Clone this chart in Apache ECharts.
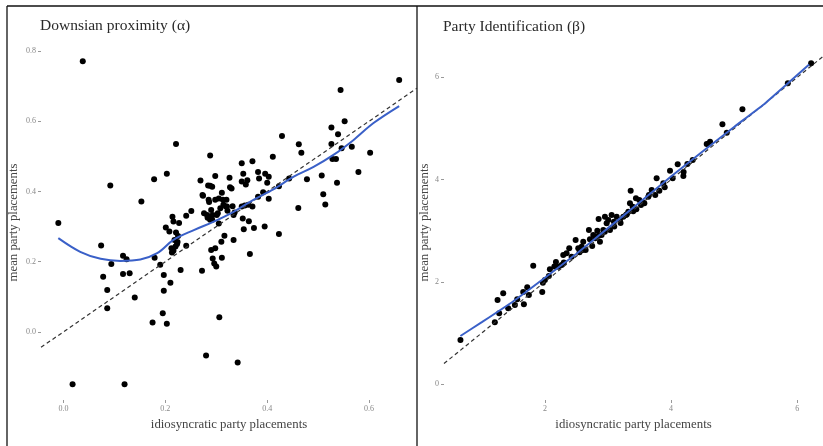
<!DOCTYPE html>
<html>
<head>
<meta charset="utf-8">
<title>Placements</title>
<script src="https://cdn.jsdelivr.net/npm/echarts@6/dist/echarts.min.js"></script>
<style>
  html, body { margin: 0; padding: 0; background: #fff; }
  #chart { width: 823px; height: 446px; }
</style>
</head>
<body>
<div id="chart"></div>
<script>
// ---- Downsian proximity (alpha) ----
var alphaIdio = [-0.010, 0.038, 0.018, 0.120, 0.074, 0.078, 0.086, 0.086, 0.092, 0.094,
  0.117, 0.124, 0.117, 0.130, 0.140, 0.153, 0.178, 0.179, 0.175, 0.190,
  0.197, 0.197, 0.195, 0.203, 0.203, 0.210, 0.221, 0.201, 0.208, 0.214,
  0.216, 0.227, 0.221, 0.225, 0.220, 0.216, 0.213, 0.224, 0.241, 0.230,
  0.241, 0.251, 0.269, 0.273, 0.272, 0.280, 0.284, 0.288, 0.298, 0.292,
  0.286, 0.276, 0.283, 0.288, 0.293, 0.290, 0.298, 0.290, 0.298, 0.293,
  0.296, 0.300, 0.306, 0.305, 0.303, 0.311, 0.313, 0.314, 0.319, 0.310,
  0.311, 0.316, 0.326, 0.330, 0.322, 0.332, 0.334, 0.342, 0.336, 0.350,
  0.353, 0.350, 0.361, 0.358, 0.371, 0.356, 0.363, 0.352, 0.354, 0.364,
  0.366, 0.371, 0.374, 0.382, 0.384, 0.382, 0.395, 0.396, 0.400, 0.403,
  0.392, 0.403, 0.411, 0.423, 0.429, 0.423, 0.443, 0.462, 0.467, 0.461,
  0.478, 0.507, 0.510, 0.514, 0.526, 0.526, 0.528, 0.535, 0.539, 0.537,
  0.544, 0.546, 0.552, 0.566, 0.579, 0.602, 0.659,
  0.274, 0.288, 0.285, 0.305, 0.320, 0.327, 0.321, 0.308, 0.282, 0.287,
  0.301, 0.292, 0.334, 0.350, 0.218, 0.223, 0.212];
var alphaMean = [0.310, 0.771, -0.149, -0.149, 0.246, 0.157, 0.119, 0.067, 0.417, 0.193,
  0.217, 0.207, 0.165, 0.167, 0.098, 0.371, 0.435, 0.211, 0.027, 0.191,
  0.162, 0.117, 0.053, 0.023, 0.450, 0.140, 0.535, 0.297, 0.286, 0.328,
  0.314, 0.310, 0.283, 0.273, 0.243, 0.231, 0.226, 0.256, 0.245, 0.176,
  0.331, 0.344, 0.431, 0.390, 0.174, -0.067, 0.417, 0.502, 0.444, 0.413,
  0.370, 0.338, 0.325, 0.319, 0.333, 0.347, 0.376, 0.233, 0.238, 0.209,
  0.195, 0.186, 0.042, 0.309, 0.338, 0.396, 0.376, 0.362, 0.357, 0.257,
  0.211, 0.274, 0.439, 0.408, 0.345, 0.358, 0.262, -0.087, 0.340, 0.480,
  0.450, 0.428, 0.432, 0.420, 0.486, 0.360, 0.362, 0.323, 0.292, 0.315,
  0.222, 0.357, 0.296, 0.455, 0.437, 0.385, 0.300, 0.450, 0.425, 0.442,
  0.398, 0.379, 0.499, 0.279, 0.558, 0.415, 0.437, 0.534, 0.510, 0.353,
  0.435, 0.445, 0.392, 0.363, 0.582, 0.535, 0.492, 0.492, 0.563, 0.425,
  0.689, 0.523, 0.600, 0.527, 0.455, 0.510, 0.717,
  0.388, 0.416, 0.376, 0.380, 0.376, 0.412, 0.357, 0.352, 0.333, 0.328,
  0.333, 0.319, 0.333, 0.357, 0.262, 0.250, 0.238];
var alphaSmoothX = [-0.010, 0.033, 0.073, 0.112, 0.151, 0.184, 0.216, 0.256, 0.295, 0.334,
  0.373, 0.412, 0.452, 0.491, 0.530, 0.569, 0.608, 0.659];
var alphaSmoothY = [0.267, 0.228, 0.208, 0.202, 0.206, 0.224, 0.262, 0.290, 0.314, 0.342,
  0.376, 0.406, 0.442, 0.470, 0.504, 0.546, 0.594, 0.643];
var alphaTicksX = [0, 0.2, 0.4, 0.6];
var alphaTicksY = [0, 0.2, 0.4, 0.6, 0.8];

// ---- Party Identification (beta) ----
var betaIdio = [0.661, 1.206, 1.249, 1.275, 1.339, 1.418, 1.524, 1.561, 1.667, 1.656,
  1.720, 1.746, 1.815, 1.958, 1.968, 2.000, 2.063, 2.079, 2.175, 2.212,
  2.265, 2.291, 2.344, 2.386, 2.423, 2.487, 2.529, 2.582, 2.608, 2.646,
  2.698, 2.714, 2.767, 2.799, 2.831, 2.852, 2.873, 2.899, 2.926, 2.952,
  2.979, 3.005, 3.032, 3.058, 3.095, 3.138, 3.190, 3.243, 3.286, 3.323,
  3.360, 3.349, 3.392, 3.444, 3.497, 3.524, 3.577, 3.640, 3.693, 3.772,
  3.815, 3.878, 3.984, 4.026, 4.106, 4.196, 4.259, 4.344, 4.566, 4.619,
  4.815, 4.884, 5.132, 5.852, 6.222,
  2.950, 3.100, 3.200, 3.400, 3.550, 3.750, 2.750, 2.600, 3.900, 4.200,
  2.550, 2.850, 3.300, 3.450, 3.650, 4.600, 2.300, 2.150];
var betaMean = [0.861, 1.207, 1.644, 1.383, 1.774, 1.481, 1.546, 1.657, 1.559, 1.800,
  1.892, 1.742, 2.316, 1.800, 1.983, 2.035, 2.113, 2.244, 2.387, 2.296,
  2.329, 2.524, 2.557, 2.655, 2.492, 2.818, 2.655, 2.688, 2.785, 2.622,
  3.014, 2.831, 2.916, 2.851, 3.001, 3.229, 2.785, 2.916, 3.014, 3.275,
  3.144, 3.209, 3.014, 3.307, 3.177, 3.275, 3.209, 3.275, 3.307, 3.372,
  3.783, 3.536, 3.470, 3.633, 3.601, 3.503, 3.536, 3.666, 3.797, 4.025,
  3.783, 3.927, 4.175, 4.025, 4.299, 4.070, 4.305, 4.384, 4.697, 4.742,
  5.082, 4.918, 5.375, 5.884, 6.275,
  2.980, 3.080, 3.150, 3.380, 3.550, 3.700, 2.700, 2.620, 3.850, 4.150,
  2.580, 2.900, 3.320, 3.420, 3.700, 4.700, 2.380, 2.300];
var betaSmoothX = [0.66, 1.0, 1.5, 2.0, 2.5, 3.0, 3.5, 4.0, 4.5, 5.0, 5.5, 6.19];
var betaSmoothY = [0.94, 1.21, 1.62, 2.08, 2.55, 3.05, 3.55, 4.06, 4.55, 5.03, 5.5, 6.25];
var betaTicksX = [2, 4, 6];
var betaTicksY = [0, 2, 4, 6];

function pairs(xs, ys) {
  return xs.map(function (x, i) { return [x, ys[i]]; });
}

var serif = '"Liberation Serif", "DejaVu Serif", serif';
var blue = '#3a60c8';

var panels = [
  { title: 'Downsian proximity (α)', xMin: -0.044, xMax: 0.694, yMin: -0.194, yMax: 0.817,
    ticksX: alphaTicksX, ticksY: alphaTicksY, fmt: function (v) { return (+v).toFixed(1); },
    grid: { left: 41, right: 406, top: 45, bottom: 46 }, yNameGap: 21, smoothness: 0.35,
    pts: pairs(alphaIdio, alphaMean), smooth: pairs(alphaSmoothX, alphaSmoothY) },
  { title: 'Party Identification (β)', xMin: 0.4, xMax: 6.41, yMin: -0.313, yMax: 6.634,
    ticksX: betaTicksX, ticksY: betaTicksY, fmt: function (v) { return String(Math.round(v)); },
    grid: { left: 444, right: 0, top: 45, bottom: 46 }, yNameGap: 12, smoothness: 0.1,
    pts: pairs(betaIdio, betaMean), smooth: pairs(betaSmoothX, betaSmoothY) }
];

var option = {
  backgroundColor: '#fff',
  animation: false,
  textStyle: { fontFamily: serif },
  grid: [], xAxis: [], yAxis: [], series: [],
  graphic: [
    { type: 'line', shape: { x1: 7, y1: 6, x2: 823, y2: 6 }, style: { stroke: '#111', lineWidth: 1.3 } },
    { type: 'line', shape: { x1: 7, y1: 6, x2: 7, y2: 446 }, style: { stroke: '#111', lineWidth: 1.3 } },
    { type: 'line', shape: { x1: 417, y1: 6, x2: 417, y2: 446 }, style: { stroke: '#111', lineWidth: 1.3 } },
    { type: 'text', left: 40, top: 18, style: { text: panels[0].title, font: '15.5px ' + serif, fill: '#2a2a2a' } },
    { type: 'text', left: 443, top: 19, style: { text: panels[1].title, font: '15.5px ' + serif, fill: '#2a2a2a' } }
  ]
};

panels.forEach(function (p, i) {
  option.grid.push(p.grid);
  option.xAxis.push({
    type: 'value', gridIndex: i, min: p.xMin, max: p.xMax,
    name: 'idiosyncratic party placements', nameLocation: 'middle', nameGap: 17,
    nameTextStyle: { fontFamily: serif, fontSize: 12.8, color: '#444' },
    axisLine: { show: false, onZero: false },
    axisTick: { show: true, length: 3, lineStyle: { color: '#999' }, customValues: p.ticksX },
    axisLabel: { customValues: p.ticksX, formatter: p.fmt, fontSize: 8, color: '#888', margin: 5, fontFamily: serif },
    splitLine: { show: false }
  });
  option.yAxis.push({
    type: 'value', gridIndex: i, min: p.yMin, max: p.yMax,
    name: 'mean party placements', nameLocation: 'middle', nameGap: p.yNameGap,
    nameTextStyle: { fontFamily: serif, fontSize: 12.8, color: '#444' },
    axisLine: { show: false, onZero: false },
    axisTick: { show: true, length: 3, lineStyle: { color: '#999' }, customValues: p.ticksY },
    axisLabel: { customValues: p.ticksY, formatter: p.fmt, fontSize: 8, color: '#888', margin: 5, fontFamily: serif },
    splitLine: { show: false }
  });
  option.series.push({
    type: 'scatter', xAxisIndex: i, yAxisIndex: i, data: p.pts,
    symbolSize: 6, itemStyle: { color: '#000', opacity: 1 }, z: 2
  });
  option.series.push({
    type: 'line', xAxisIndex: i, yAxisIndex: i,
    data: [[p.xMin, p.xMin], [p.xMax, p.xMax]],
    showSymbol: false, lineStyle: { color: '#333', width: 1.2, type: [4, 3] }, z: 3
  });
  option.series.push({
    type: 'line', xAxisIndex: i, yAxisIndex: i, data: p.smooth, smooth: p.smoothness,
    showSymbol: false, lineStyle: { color: blue, width: 2 }, z: 4
  });
});

var chart = echarts.init(document.getElementById('chart'));
chart.setOption(option);
</script>
</body>
</html>
